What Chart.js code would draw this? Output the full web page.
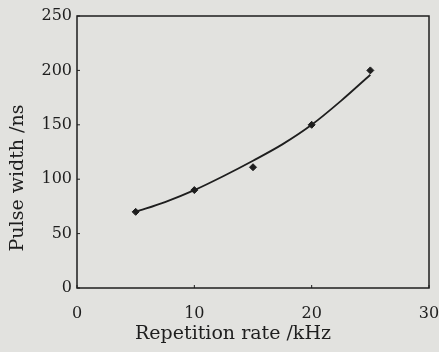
<!DOCTYPE html>
<html lang="en">
  <head>
    <meta charset="UTF-8" />
    <title>Pulse width vs repetition rate</title>
    <script src="https://cdn.jsdelivr.net/npm/chart.js"></script>
    <style>
      html, body { margin: 0; padding: 0; background: #e2e2df; }
      canvas { display: block; }
    </style>
  </head>
  <body>
    <canvas id="myChart" width="439" height="352"></canvas>
    <script>
      // measured points
      const rate = [5, 10, 15, 20, 25];
      const width = [70, 90, 111, 150, 200];
      // fitted curve
      const fitRate = [5, 7.5, 10, 12.5, 15, 17.5, 20, 22.5, 25];
      const fitWidth = [70, 79, 90, 103, 117, 132, 150, 172, 196];
      const xTicks = [0, 10, 20, 30];
      const yTicks = [0, 50, 100, 150, 200, 250];

      const ink = "#1e1e1e";
      const font = { family: "'DejaVu Serif', serif", size: 16 };

      const frame = {
        id: "frame",
        afterDraw(chart) {
          const { ctx, chartArea: a, scales } = chart;
          ctx.save();
          ctx.strokeStyle = ink;
          ctx.lineWidth = 1.5;
          ctx.strokeRect(a.left, a.top, a.right - a.left, a.bottom - a.top);
          // small inward ticks
          ctx.lineWidth = 1;
          xTicks.forEach((v) => {
            const x = scales.x.getPixelForValue(v);
            ctx.beginPath();
            ctx.moveTo(x, a.bottom);
            ctx.lineTo(x, a.bottom - 3);
            ctx.stroke();
          });
          yTicks.forEach((v) => {
            const y = scales.y.getPixelForValue(v);
            ctx.beginPath();
            ctx.moveTo(a.left, y);
            ctx.lineTo(a.left + 3, y);
            ctx.stroke();
          });
          // axis titles
          ctx.fillStyle = ink;
          ctx.font = "19px 'DejaVu Serif', serif";
          ctx.textAlign = "center";
          ctx.textBaseline = "middle";
          ctx.fillText("Repetition rate /kHz", 233, 334);
          ctx.translate(18, 178);
          ctx.rotate(-Math.PI / 2);
          ctx.fillText("Pulse width /ns", 0, 0);
          ctx.restore();
        },
      };

      const ctx = document.getElementById("myChart").getContext("2d");
      const myChart = new Chart(ctx, {
        type: "scatter",
        data: {
          datasets: [
            {
              label: "fit",
              data: fitRate.map((x, i) => ({ x: x, y: fitWidth[i] })),
              showLine: true,
              borderColor: ink,
              borderWidth: 1.8,
              pointRadius: 0,
              cubicInterpolationMode: "monotone",
            },
            {
              label: "measured",
              data: rate.map((x, i) => ({ x: x, y: width[i] })),
              pointStyle: "rectRot",
              pointRadius: 3.5,
              backgroundColor: ink,
              borderColor: ink,
            },
          ],
        },
        options: {
          responsive: false,
          animation: false,
          layout: { padding: { left: 0, right: 10, top: 16, bottom: 0 } },
          plugins: { legend: { display: false }, tooltip: { enabled: false } },
          scales: {
            x: {
              min: 0,
              max: 30,
              afterFit: (s) => {
                s.height = 64;
                s.paddingLeft = 0;
                s.paddingRight = 0;
              },
              afterBuildTicks: (s) => { s.ticks = xTicks.map((v) => ({ value: v })); },
              grid: { display: false, drawTicks: false },
              border: { display: false },
              ticks: { color: ink, font: font, padding: 16, maxRotation: 0 },
            },
            y: {
              min: 0,
              max: 250,
              afterFit: (s) => {
                s.width = 77;
                s.paddingTop = 0;
                s.paddingBottom = 0;
              },
              afterBuildTicks: (s) => { s.ticks = yTicks.map((v) => ({ value: v })); },
              grid: { display: false, drawTicks: false },
              border: { display: false },
              ticks: { color: ink, font: font, padding: 5 },
            },
          },
        },
        plugins: [frame],
      });
    </script>
  </body>
</html>
